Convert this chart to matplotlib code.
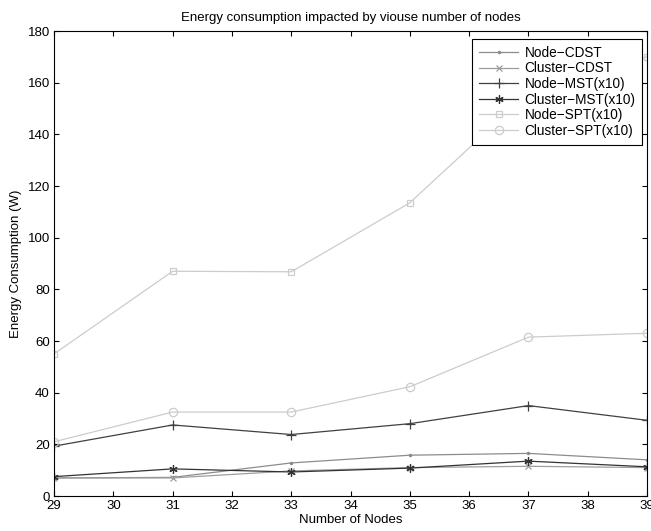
import matplotlib
matplotlib.use("Agg")
import matplotlib.pyplot as plt

plt.rcParams['font.family'] = ['Liberation Sans', 'DejaVu Sans']

nodes = [29, 31, 33, 35, 37, 39]
node_cdst = [7.0, 7.2, 12.8, 15.8, 16.5, 14.0]
cluster_cdst = [7.0, 7.0, 9.7, 11.0, 11.5, 11.0]
node_mst = [19.3, 27.5, 23.8, 28.0, 35.0, 29.3]
cluster_mst = [7.5, 10.5, 9.3, 10.8, 13.5, 11.3]
node_spt = [55.0, 87.0, 86.8, 113.5, 156.0, 170.0]
cluster_spt = [21.0, 32.5, 32.5, 42.3, 61.5, 63.0]

fig = plt.figure(figsize=(6.51, 5.31), dpi=100)
ax = fig.add_axes([0.083, 0.0659, 0.911, 0.8757])

asterisk = (6, 2, 0)
ax.plot(nodes, node_cdst, color='0.55', marker='.', ms=3, lw=0.9, label='Node\u2212CDST')
ax.plot(nodes, cluster_cdst, color='0.62', marker='x', ms=4.5, mew=0.9, lw=0.9, label='Cluster\u2212CDST')
ax.plot(nodes, node_mst, color='0.25', marker='+', ms=7, mew=0.9, lw=0.9, label='Node\u2212MST(x10)')
ax.plot(nodes, cluster_mst, color='0.2', marker=asterisk, ms=6, mew=0.9, lw=0.9, label='Cluster\u2212MST(x10)')
ax.plot(nodes, node_spt, color='0.8', marker='s', ms=5, mfc='none', mew=0.9, lw=0.9, label='Node\u2212SPT(x10)')
ax.plot(nodes, cluster_spt, color='0.8', marker='o', ms=6, mfc='none', mew=0.9, lw=0.9, label='Cluster\u2212SPT(x10)')

ax.set_xlim(29, 39)
ax.set_ylim(0, 180)
ax.set_xticks(range(29, 40))
ax.set_yticks(range(0, 181, 20))
ax.tick_params(direction='in', top=True, right=True, labelsize=9.5, length=3.5, width=0.8, pad=3)
for s in ax.spines.values():
    s.set_linewidth(0.8)

ax.set_title('Energy consumption impacted by viouse number of nodes', fontsize=9.5, pad=7)
ax.set_xlabel('Number of Nodes', fontsize=9.5, labelpad=1.5)
ax.set_ylabel('Energy Consumption (W)', fontsize=9.5, labelpad=4)

leg = ax.legend(loc='upper right', fontsize=9.8, frameon=True, fancybox=False,
                edgecolor='black', framealpha=1, bbox_to_anchor=(0.992, 0.983),
                borderaxespad=0, handlelength=2.9, labelspacing=0.12,
                borderpad=0.5, handletextpad=0.45)
leg.get_frame().set_linewidth(0.8)

fig.savefig('out.png', dpi=100)
